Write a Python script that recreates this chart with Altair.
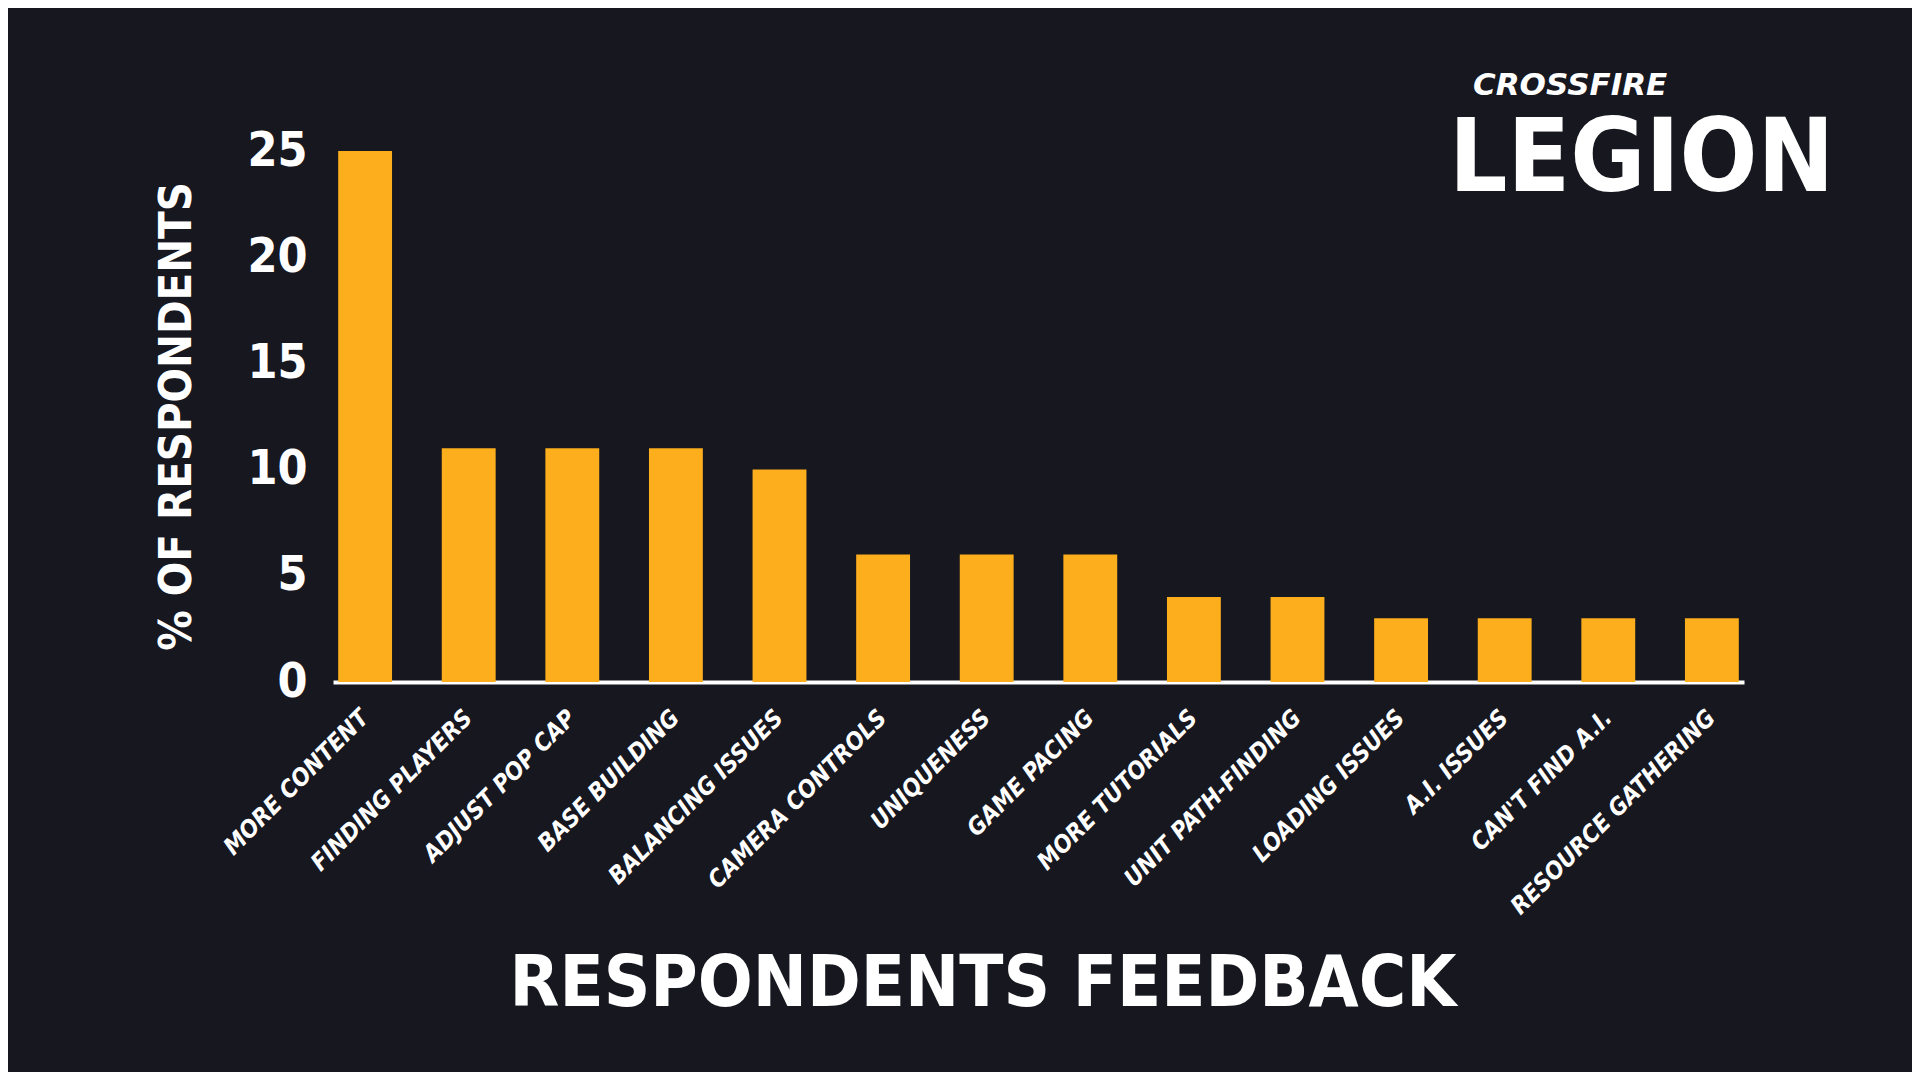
import altair as alt
import pandas as pd

categories = ["MORE CONTENT", "FINDING PLAYERS", "ADJUST POP CAP", "BASE BUILDING",
              "BALANCING ISSUES", "CAMERA CONTROLS", "UNIQUENESS", "GAME PACING",
              "MORE TUTORIALS", "UNIT PATH-FINDING", "LOADING ISSUES", "A.I. ISSUES",
              "CAN'T FIND A.I.", "RESOURCE GATHERING"]
values = [25, 11, 11, 11, 10, 6, 6, 6, 4, 4, 3, 3, 3, 3]
y_ticks = [0, 5, 10, 15, 20, 25]

BG = "#16171f"
BAR = "#FDAE1D"
FONT = "DejaVu Sans Condensed"

df = pd.DataFrame({"feedback": categories, "pct": values})

bars = alt.Chart(df).mark_bar(color=BAR).encode(
    x=alt.X("feedback:N", sort=categories,
            scale=alt.Scale(paddingInner=0.48, paddingOuter=0.05),
            axis=alt.Axis(title=None, labelAngle=-45, labelAlign="right",
                          labelBaseline="middle", labelPadding=32,
                          labelFont=FONT, labelFontSize=24, labelFontWeight="bold",
                          labelFontStyle="italic", labelColor="white", labelLimit=400,
                          ticks=False, tickSize=0, domain=True, domainColor="white",
                          domainWidth=4, grid=False)),
    y=alt.Y("pct:Q", scale=alt.Scale(domain=[0, 25], nice=False),
            axis=alt.Axis(title="% OF RESPONDENTS", values=y_ticks,
                          labelFont=FONT, labelFontSize=48, labelFontWeight="bold",
                          labelColor="white", labelPadding=26, ticks=False, tickSize=0,
                          domain=False, grid=False,
                          titleFont=FONT, titleFontSize=45, titleFontWeight="bold",
                          titleColor="white", titleAngle=-90, titleAlign="center",
                          titleBaseline="alphabetic", titleX=-143, titleY=265)),
)

title_df = pd.DataFrame({"t": ["RESPONDENTS FEEDBACK"]})
title = alt.Chart(title_df).mark_text(
    font=FONT, fontSize=72, fontWeight="bold", color="white",
    align="center", baseline="alphabetic"
).encode(text="t:N", x=alt.value(650), y=alt.value(855))

brand_df = pd.DataFrame({"t": ["CROSSFIRE"]})
brand = alt.Chart(brand_df).mark_text(
    font="DejaVu Sans", fontSize=31, fontWeight="bold", fontStyle="italic",
    color="white", align="left", baseline="alphabetic"
).encode(text="t:N", x=alt.value(1140), y=alt.value(-56))

legion_df = pd.DataFrame({"t": ["LEGION"]})
legion = alt.Chart(legion_df).mark_text(
    font=FONT, fontSize=102, fontWeight="bold",
    color="white", align="left", baseline="alphabetic"
).encode(text="t:N", x=alt.value(1116), y=alt.value(40))

chart = alt.layer(bars, title, brand, legion).properties(
    width=1411, height=531,
    background=BG,
    padding={"left": 325, "top": 143, "right": 168, "bottom": 390},
    autosize=alt.AutoSizeParams(type="none"),
).configure_view(stroke=None)

chart.save("out.html", embed_options={"renderer": "svg", "actions": False})
